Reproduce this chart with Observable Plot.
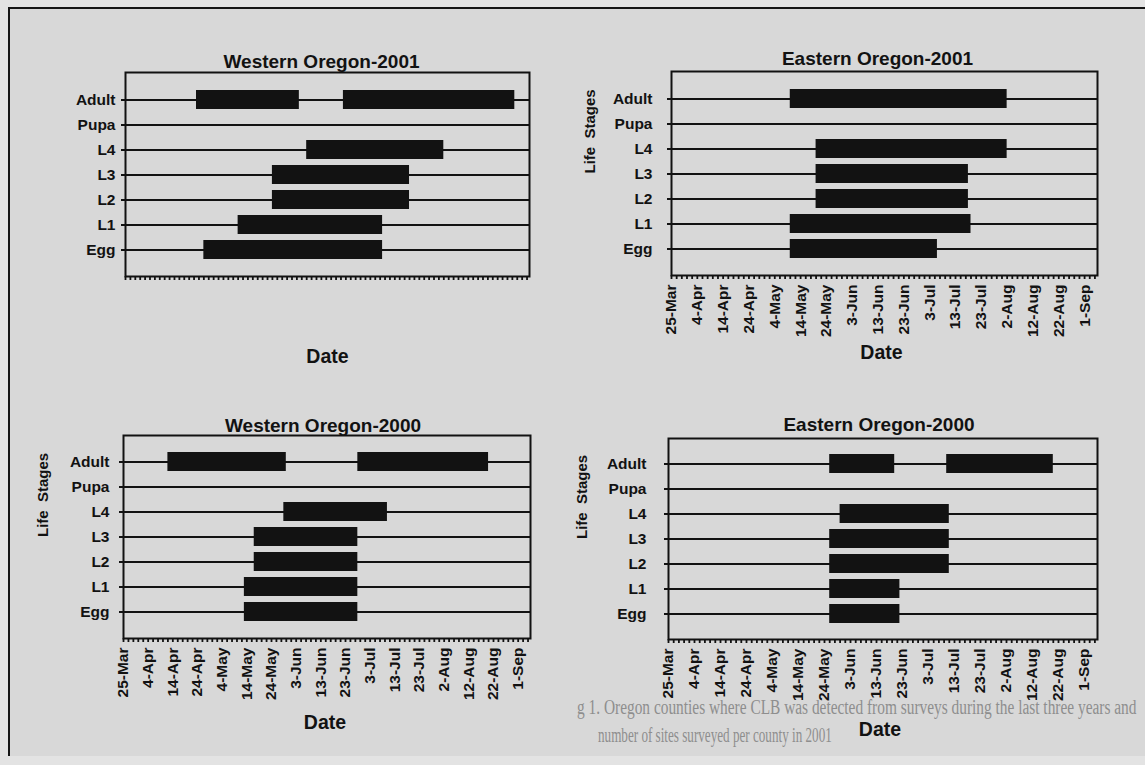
<!DOCTYPE html>
<html><head><meta charset="utf-8">
<script src="https://cdn.jsdelivr.net/npm/d3@7"></script>
<script src="https://cdn.jsdelivr.net/npm/@observablehq/plot@0.6"></script>
<style>
html,body{margin:0;padding:0;background:#e3e3e3;}
#page{position:relative;width:1145px;height:765px;overflow:hidden;background:#e3e3e3;font-family:"Liberation Sans",Arial,sans-serif;}
#sheet{position:absolute;left:8px;top:7px;width:1140px;height:747px;background:#d8d8d8;border-left:2px solid #151515;border-top:2px solid #151515;}
#ghost{position:absolute;left:0;top:0;}
.chart{position:absolute;}
</style></head><body>
<div id="page"><div id="sheet"></div>
<svg id="ghost" width="1145" height="765"></svg>
</div>
<script>
const stages = ["Adult","Pupa","L4","L3","L2","L1","Egg"];
const tickLabels = ["25-Mar","4-Apr","14-Apr","24-Apr","4-May","14-May","24-May","3-Jun","13-Jun","23-Jun","3-Jul","13-Jul","23-Jul","2-Aug","12-Aug","22-Aug","1-Sep"];
const axisStart = "25-Mar";
const axisEnd = "6-Sep";

// faint show-through of the page's caption in the scan
const ghostLines = ["g 1. Oregon counties where CLB was detected from surveys during the last three years and", "number of sites surveyed per county in 2001"];

// Western Oregon-2001
const w2001Stage = ["Adult","Adult","L4","L3","L2","L1","Egg"];
const w2001Start = ["23-Apr","22-Jun","7-Jun","24-May","24-May","10-May","26-Apr"];
const w2001End   = ["4-Jun","31-Aug","2-Aug","19-Jul","19-Jul","8-Jul","8-Jul"];

// Eastern Oregon-2001
const e2001Stage = ["Adult","L4","L3","L2","L1","Egg"];
const e2001Start = ["10-May","20-May","20-May","20-May","10-May","10-May"];
const e2001End   = ["2-Aug","2-Aug","18-Jul","18-Jul","19-Jul","6-Jul"];

// Western Oregon-2000
const w2000Stage = ["Adult","Adult","L4","L3","L2","L1","Egg"];
const w2000Start = ["12-Apr","28-Jun","29-May","17-May","17-May","13-May","13-May"];
const w2000End   = ["30-May","20-Aug","10-Jul","28-Jun","28-Jun","28-Jun","28-Jun"];

// Eastern Oregon-2000
const e2000Stage = ["Adult","Adult","L4","L3","L2","L1","Egg"];
const e2000Start = ["26-May","10-Jul","30-May","26-May","26-May","26-May","26-May"];
const e2000End   = ["20-Jun","20-Aug","11-Jul","11-Jul","11-Jul","22-Jun","22-Jun"];

const charts = [
  {title:"Western Oregon-2001", year:2001, stage:w2001Stage, start:w2001Start, end:w2001End},
  {title:"Eastern Oregon-2001", year:2001, stage:e2001Stage, start:e2001Start, end:e2001End},
  {title:"Western Oregon-2000", year:2000, stage:w2000Stage, start:w2000Start, end:w2000End},
  {title:"Eastern Oregon-2000", year:2000, stage:e2000Stage, start:e2000Start, end:e2000End}
];
// layout: frame [x0,x1,y0,y1] in page pixels and text offsets
const layouts = [
  {frame:[125,529,72,276], tickText:false, yLabel:false, gap:10, titleDx:-6, titleDy:-11, dateDx:0, dateDy:80, lsDx:0},
  {frame:[671,1097,71,275], tickText:true, yLabel:true, gap:19, titleDx:-7, titleDy:-13, dateDx:-3, dateDy:77, lsDx:-81},
  {frame:[123,530,435,638], tickText:true, yLabel:true, gap:14, titleDx:-4, titleDy:-10, dateDx:-2, dateDy:84, lsDx:-80},
  {frame:[668,1097,438,639], tickText:true, yLabel:true, gap:22, titleDx:-4, titleDy:-14, dateDx:-3, dateDy:90, lsDx:-86}
];
const ghostLayout = [{x:577, y:714, w:560}, {x:598, y:742, w:234}];

// ghost caption, squeezed horizontally to the widths seen in the scan
const ghost = d3.select("#ghost");
ghostLines.forEach((t, i) => {
  const g = ghostLayout[i];
  const el = ghost.append("text")
    .attr("font-family", "'Liberation Serif', serif")
    .attr("font-size", 20)
    .attr("fill", "#8e8e8e")
    .text(t);
  const natural = el.node().getComputedTextLength();
  el.attr("transform", `translate(${g.x},${g.y}) scale(${g.w / natural},1)`);
});

const parse = d3.utcParse("%d-%b-%Y");
const fmt = d3.utcFormat("%-d-%b");
const ink = "#121212";
const page = document.getElementById("page");

charts.forEach((c, k) => {
  const L = layouts[k];
  const [x0, x1, y0, y1] = L.frame;
  const mL = 120, mR = 10, mT = 40, mB = 110;
  const d0 = parse(axisStart + "-" + c.year);
  const d1 = parse(axisEnd + "-" + c.year);
  const rows = c.stage.map((s, i) => ({stage: s, start: parse(c.start[i] + "-" + c.year), end: parse(c.end[i] + "-" + c.year)}));
  const majors = tickLabels.map(t => parse(t + "-" + c.year));
  const nDays = d3.utcDay.count(d0, d1);
  const minors = d3.range(0, nDays + 1, 2).map(i => d3.utcDay.offset(d0, i));

  const marks = [
    Plot.gridY({stroke: ink, strokeOpacity: 1, strokeWidth: 2}),
    Plot.barX(rows, {x1: "start", x2: "end", y: "stage", fill: ink}),
    Plot.frame({stroke: ink, strokeWidth: 2}),
    Plot.axisY({tickSize: 4, strokeWidth: 2, tickPadding: L.gap - 4, fontSize: 15.5, fontWeight: "bold", fill: ink, label: null}),
    Plot.axisX({ticks: minors, tickSize: 4, strokeWidth: 1.8, tickFormat: () => "", label: null}),
    Plot.text([c.title], {text: d => d, frameAnchor: "top", dx: L.titleDx, dy: L.titleDy, lineAnchor: "middle", fontSize: 19, fontWeight: "bold", fill: ink}),
    Plot.text(["Date"], {text: d => d, frameAnchor: "bottom", dx: L.dateDx, dy: L.dateDy, lineAnchor: "middle", fontSize: 19.5, fontWeight: "bold", fill: ink})
  ];
  if (L.tickText) {
    marks.push(Plot.axisX({ticks: majors, tickSize: 0, tickPadding: 9, tickRotate: -90, tickFormat: fmt, fontSize: 15.5, fontWeight: "bold", fill: ink, label: null}));
  }
  if (L.yLabel) {
    marks.push(Plot.text(["Life  Stages"], {text: d => d, frameAnchor: "left", dx: L.lsDx, rotate: -90, lineAnchor: "middle", fontSize: 15, fontWeight: "bold", fill: ink}));
  }

  const plot = Plot.plot({
    width: (x1 - x0) + mL + mR,
    height: (y1 - y0) + mT + mB,
    marginLeft: mL, marginRight: mR, marginTop: mT, marginBottom: mB,
    style: {background: "transparent", fontFamily: "'Liberation Sans', Arial, sans-serif", color: ink, overflow: "visible"},
    x: {type: "utc", domain: [d0, d1]},
    y: {type: "band", domain: stages, paddingInner: 0.24, paddingOuter: 0.62},
    marks
  });
  const holder = document.createElement("div");
  holder.className = "chart";
  holder.style.left = (x0 - mL) + "px";
  holder.style.top = (y0 - mT) + "px";
  holder.appendChild(plot);
  page.appendChild(holder);
});
</script>
</body></html>
